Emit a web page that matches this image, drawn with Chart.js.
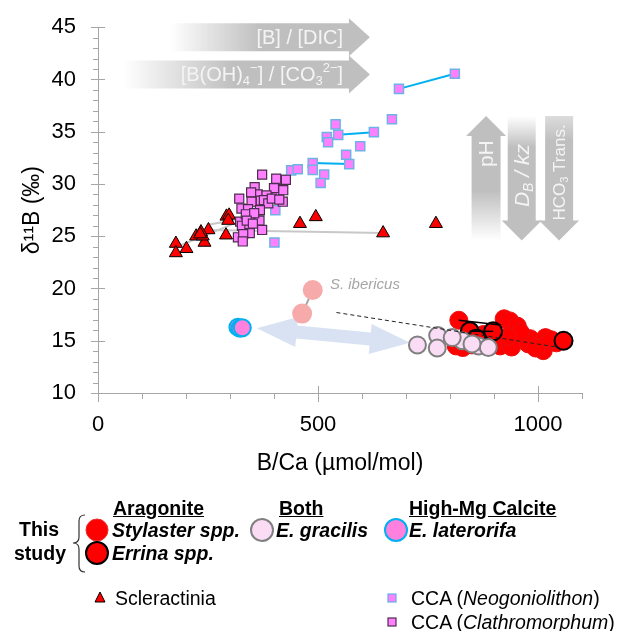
<!DOCTYPE html>
<html>
<head>
<meta charset="utf-8">
<title>d11B vs B/Ca</title>
<script src="https://cdn.jsdelivr.net/npm/chart.js"></script>
<style>
  body { margin: 0; background: #fff; font-family: "Liberation Sans", Arial, sans-serif; }
  #wrap { position: relative; width: 621px; height: 631px; }
  #chartBox { position: absolute; left: 0; top: 0; width: 621px; height: 480px; }
  #overlay { position: absolute; left: 0; top: 0; }
  .lg { position: absolute; font-size: 19.5px; line-height: 22px; white-space: nowrap; color: #000; }
  .b { font-weight: bold; }
  .bi { font-weight: bold; font-style: italic; }
  .u { text-decoration: underline; }
</style>
</head>
<body>
<div id="wrap">
  <div id="chartBox"><canvas id="chart"></canvas></div>

  <svg id="overlay" width="621" height="631">
    <path d="M85 515 Q79 515 79 521 L79 537 Q79 543 73 543 Q79 543 79 549 L79 566 Q79 572 85 572" fill="none" stroke="#333" stroke-width="1.2"/>
    <circle cx="97" cy="530" r="11" fill="#ff0000" stroke="#e83030" stroke-width="1"/>
    <circle cx="97" cy="553" r="11" fill="#ff0000" stroke="#000" stroke-width="2"/>
    <circle cx="262" cy="530" r="11" fill="#fadcf5" stroke="#808080" stroke-width="2"/>
    <circle cx="396" cy="530" r="11" fill="#ff80df" stroke="#00b0f0" stroke-width="2"/>
    <path d="M100 592 L105 602 L95 602 Z" fill="#ff0000" stroke="#000" stroke-width="1"/>
    <rect x="388" y="594" width="8" height="8" fill="#ff80ff" stroke="#5fb0e8" stroke-width="1.2"/>
    <rect x="388" y="618" width="8" height="8" fill="#ff80ff" stroke="#4d2d4d" stroke-width="1.2"/>
  </svg>

  <div class="lg b u" style="left:113px;top:497px;">Aragonite</div>
  <div class="lg b u" style="left:279px;top:497px;">Both</div>
  <div class="lg b u" style="left:409px;top:497px;">High-Mg Calcite</div>
  <div class="lg b" style="left:19px;top:518px;">This</div>
  <div class="lg b" style="left:14px;top:542px;">study</div>
  <div class="lg bi" style="left:112px;top:519px;">Stylaster spp.</div>
  <div class="lg bi" style="left:112px;top:542px;">Errina spp.</div>
  <div class="lg bi" style="left:276px;top:519px;">E. gracilis</div>
  <div class="lg bi" style="left:409px;top:519px;">E. laterorifa</div>
  <div class="lg" style="left:115px;top:587px;">Scleractinia</div>
  <div class="lg" style="left:411px;top:587px;">CCA (<i>Neogoniolithon</i>)</div>
  <div class="lg" style="left:411px;top:611px;">CCA (<i>Clathromorphum</i>)</div>
</div>

<script>
  // axis ticks
  const xTicks = [0, 500, 1000];
  const yTicks = [10, 15, 20, 25, 30, 35, 40, 45];

  // CCA (Neogoniolithon)
  const neoX = [811, 684, 668, 540, 627, 546, 520, 523, 596, 564, 571, 488, 488, 514, 506, 439, 454, 401, 403];
  const neoY = [40.55, 39.1, 36.2, 35.7, 34.96, 34.7, 34.5, 34.0, 33.6, 32.8, 31.9, 32.0, 31.35, 30.9, 30.1, 31.3, 31.4, 24.4, 27.5];
  const neoLinkX = [[684, 811], [546, 627], [488, 571]];
  const neoLinkY = [[39.1, 40.55], [34.7, 34.96], [32.0, 31.9]];

  // CCA (Clathromorphum)
  const clathX = [373, 408, 417, 427, 405, 356, 400, 363, 383, 406, 421, 420, 321, 348, 349, 326, 341, 370, 377, 387,
                  368, 344, 367, 373, 323, 327, 344, 345, 318, 330, 329, 336, 355, 338, 352, 395, 412];
  const clathY = [30.9, 30.3, 30.4, 30.4, 30.5, 29.7, 29.6, 29.0, 28.9, 28.75, 29.4, 28.3, 28.6, 29.2, 28.3, 27.65, 27.6, 28.4, 28.45, 28.15,
                  27.5, 26.96, 26.5, 25.6, 26.4, 26.0, 25.9, 25.3, 24.9, 25.2, 24.5, 27.1, 27.2, 26.5, 26.2, 28.6, 28.5];

  // Scleractinia
  const sclerX = [177, 177, 201, 223, 242, 238, 251, 234, 232, 291, 292, 298, 296, 364, 459, 495, 648, 768];
  const sclerY = [24.3, 23.4, 23.8, 25.0, 24.4, 25.0, 25.6, 25.4, 25.2, 25.1, 26.9, 27.0, 26.5, 27.4, 26.2, 26.85, 25.3, 26.2];
  const sclerLinkX = [[180, 320], [250, 330], [247, 648]];
  const sclerLinkY = [[24.0, 26.4], [26.1, 26.7], [25.6, 25.3]];

  // this study
  const stylX = [820, 923, 936, 953, 814, 829, 914, 940, 982, 978, 1017, 1020, 1012, 1042, 867, 876, 840, 900, 960, 995, 1030, 850, 930];
  const stylY = [16.96, 17.1, 16.9, 16.4, 14.5, 14.35, 14.5, 14.4, 15.2, 14.7, 15.3, 14.7, 14.05, 14.8, 15.0, 15.6, 15.3, 14.9, 15.8, 14.3, 15.1, 14.6, 15.4];
  const errinaX = [845, 898, 1058, 860];
  const errinaY = [15.9, 15.9, 15.0, 15.2];
  const gracX = [726, 772, 771, 828, 865, 887, 850, 805];
  const gracY = [14.6, 15.5, 14.3, 15.0, 14.5, 14.35, 14.7, 15.3];
  const latX = [318, 323, 328];
  const latY = [16.3, 16.2, 16.25];
  const blackLinkX = [[820, 915], [845, 898]];
  const blackLinkY = [[16.96, 16.5], [15.9, 15.9]];
  const dashX = [542, 1050];
  const dashY = [17.7, 14.35];

  // S. ibericus
  const ibeX = [464, 488];
  const ibeY = [17.6, 19.85];

  const FONT = '"Liberation Sans", Arial, sans-serif';
  const AXIS = '#a6a6a6';
  const ARROW = '#bfbfbf';

  const pts = (xs, ys) => xs.map((v, i) => ({ x: v, y: ys[i] }));

  function links(xs, ys, color, width, dash) {
    return xs.map((xx, i) => ({
      data: pts(xx, ys[i]), showLine: true, pointRadius: 0,
      borderColor: color, borderWidth: width, borderDash: dash || []
    }));
  }

  const layers = [
    ...links(sclerLinkX, sclerLinkY, '#c8c8c8', 2),
    { data: pts(sclerX, sclerY), pointStyle: 'triangle', pointRadius: 7.5,
      backgroundColor: '#ff0000', borderColor: '#000', borderWidth: 1 },
    ...links(neoLinkX, neoLinkY, '#00b0f0', 2),
    { data: pts(neoX, neoY), pointStyle: 'rect', pointRadius: 6.4,
      backgroundColor: '#ff80ff', borderColor: '#6fb2e6', borderWidth: 1.5 },
    { data: pts(clathX, clathY), pointStyle: 'rect', pointRadius: 6.4,
      backgroundColor: '#ff80ff', borderColor: '#4d2d4d', borderWidth: 1.2 },
    { data: pts(ibeX, ibeY), showLine: true, borderColor: '#a6a6a6', borderWidth: 2,
      pointRadius: 9, pointBackgroundColor: '#f7aaaa', pointBorderColor: '#f7aaaa' },
    { data: pts(stylX, stylY), pointRadius: 9,
      backgroundColor: '#ff0000', borderColor: '#e81010', borderWidth: 1 },
    { data: pts(errinaX, errinaY), pointRadius: 9,
      backgroundColor: '#ff0000', borderColor: '#000', borderWidth: 2 },
    { data: pts(gracX, gracY), pointRadius: 8.5,
      backgroundColor: '#fadcf5', borderColor: '#808080', borderWidth: 2 },
    ...links(blackLinkX, blackLinkY, '#000', 1.5),
    ...links([dashX], [dashY], '#222', 1, [4, 3]),
    { data: pts(latX, latY), pointRadius: 8.5,
      backgroundColor: '#ff80df', borderColor: '#00b0f0', borderWidth: 2 }
  ];
  // first layer at the bottom
  layers.forEach((d, i) => { d.order = layers.length - i; d.clip = false; });

  // text made of runs: n normal, i italic, b subscript, p superscript, ib italic subscript
  function richText(ctx, runs, x, y, size, align) {
    const fontOf = k => {
      const small = (k === 'b' || k === 'p' || k === 'ib');
      const it = (k === 'i' || k === 'ib') ? 'italic ' : '';
      return it + (small ? Math.round(size * 0.65) : size) + 'px ' + FONT;
    };
    let total = 0;
    runs.forEach(([t, k]) => { ctx.font = fontOf(k); total += ctx.measureText(t).width; });
    let cx = align === 'right' ? x - total : align === 'center' ? x - total / 2 : x;
    ctx.textAlign = 'left';
    ctx.textBaseline = 'middle';
    runs.forEach(([t, k]) => {
      ctx.font = fontOf(k);
      const dy = (k === 'b' || k === 'ib') ? size * 0.3 : k === 'p' ? -size * 0.35 : 0;
      ctx.fillText(t, cx, y + dy);
      cx += ctx.measureText(t).width;
    });
  }

  function hArrow(ctx, x0, x1, yc, sh, hh, hl, fill) {
    ctx.beginPath();
    ctx.moveTo(x0, yc - sh);
    ctx.lineTo(x1 - hl, yc - sh);
    ctx.lineTo(x1 - hl, yc - hh);
    ctx.lineTo(x1, yc);
    ctx.lineTo(x1 - hl, yc + hh);
    ctx.lineTo(x1 - hl, yc + sh);
    ctx.lineTo(x0, yc + sh);
    ctx.closePath();
    ctx.fillStyle = fill;
    ctx.fill();
  }

  // tip at yTip, tail at yTail
  function vArrow(ctx, xc, yTip, yTail, sw, hw, hl, fill) {
    const s = yTail > yTip ? 1 : -1;
    ctx.beginPath();
    ctx.moveTo(xc, yTip);
    ctx.lineTo(xc + hw, yTip + s * hl);
    ctx.lineTo(xc + sw, yTip + s * hl);
    ctx.lineTo(xc + sw, yTail);
    ctx.lineTo(xc - sw, yTail);
    ctx.lineTo(xc - sw, yTip + s * hl);
    ctx.lineTo(xc - hw, yTip + s * hl);
    ctx.closePath();
    ctx.fillStyle = fill;
    ctx.fill();
  }

  const annotations = {
    id: 'annotations',
    beforeDatasetsDraw(chart) {
      const { ctx, scales: { x, y } } = chart;
      ctx.save();

      // axis tick marks
      const ax = x.left, ay = y.bottom;
      ctx.strokeStyle = AXIS;
      ctx.lineWidth = 1;
      ctx.beginPath();
      for (let v = 10; v <= 45; v++) {
        const py = Math.round(y.getPixelForValue(v)) + 0.5;
        const major = v % 5 === 0;
        ctx.moveTo(ax - (major ? 7 : 5), py);
        ctx.lineTo(ax + (major ? 7 : 0), py);
      }
      for (let v = 0; v <= 1100; v += 100) {
        const px = Math.round(x.getPixelForValue(v)) + 0.5;
        const major = v % 500 === 0;
        ctx.moveTo(px, ay - (major ? 7 : 0));
        ctx.lineTo(px, ay + (major ? 9 : 6));
      }
      ctx.stroke();

      // top gradient arrows
      const tops = [
        { x0: 164, yv: 44.05, runs: [['[B] / [DIC]', 'n']] },
        { x0: 57, yv: 40.48, runs: [['[B(OH)', 'n'], ['4', 'b'], ['−', 'p'], ['] / [CO', 'n'], ['3', 'b'], ['2−', 'p'], [']', 'n']] }
      ];
      const tipX = x.getPixelForValue(618);
      tops.forEach(a => {
        const x0 = x.getPixelForValue(a.x0), yc = y.getPixelForValue(a.yv);
        const g = ctx.createLinearGradient(x0, 0, tipX, 0);
        g.addColorStop(0, 'rgba(191,191,191,0)');
        g.addColorStop(0.45, ARROW);
        g.addColorStop(1, ARROW);
        hArrow(ctx, x0, tipX, yc, 14, 19, 21, g);
        ctx.fillStyle = '#f4f4f4';
        richText(ctx, a.runs, x.getPixelForValue(557), yc + 1, 20, 'right');
      });

      // vertical arrows
      const yTop = y.getPixelForValue(36.5), yBot = y.getPixelForValue(24.6);
      const ph = x.getPixelForValue(882), db = x.getPixelForValue(963), hc = x.getPixelForValue(1048);
      let g = ctx.createLinearGradient(0, yTop, 0, yBot);
      g.addColorStop(0, ARROW); g.addColorStop(0.6, ARROW); g.addColorStop(1, 'rgba(191,191,191,0)');
      vArrow(ctx, ph, yTop, yBot, 14.5, 20, 20, g);
      g = ctx.createLinearGradient(0, yTop, 0, yBot);
      g.addColorStop(0, 'rgba(191,191,191,0)'); g.addColorStop(0.25, ARROW); g.addColorStop(1, ARROW);
      vArrow(ctx, db, yBot, yTop, 14, 20, 20, g);
      g = ctx.createLinearGradient(0, yTop, 0, yBot);
      g.addColorStop(0, '#dcdcdc'); g.addColorStop(0.2, ARROW); g.addColorStop(1, ARROW);
      vArrow(ctx, hc, yBot, yTop, 14, 20, 20, g);

      const vText = (cx, cyv, runs, size) => {
        ctx.save();
        ctx.translate(cx + 1, y.getPixelForValue(cyv));
        ctx.rotate(-Math.PI / 2);
        ctx.fillStyle = '#f4f4f4';
        richText(ctx, runs, 0, 0, size, 'center');
        ctx.restore();
      };
      vText(ph, 32.9, [['pH', 'n']], 21);
      vText(db, 30.8, [['D', 'i'], ['B', 'ib'], [' / ', 'i'], ['kz', 'i']], 21);
      vText(hc, 31.1, [['HCO', 'n'], ['3', 'b'], [' Trans.', 'n']], 17);

      // light blue double arrow
      const bx0 = x.getPixelForValue(361), by0 = y.getPixelForValue(16.2);
      const bx1 = x.getPixelForValue(709), by1 = y.getPixelForValue(14.8);
      const len = Math.hypot(bx1 - bx0, by1 - by0);
      ctx.save();
      ctx.translate(bx0, by0);
      ctx.rotate(Math.atan2(by1 - by0, bx1 - bx0));
      const hl = 40, hh = 15, sh = 6.5;
      ctx.beginPath();
      ctx.moveTo(0, 0);
      ctx.lineTo(hl, -hh); ctx.lineTo(hl, -sh); ctx.lineTo(len - hl, -sh); ctx.lineTo(len - hl, -hh);
      ctx.lineTo(len, 0);
      ctx.lineTo(len - hl, hh); ctx.lineTo(len - hl, sh); ctx.lineTo(hl, sh); ctx.lineTo(hl, hh);
      ctx.closePath();
      ctx.fillStyle = '#d9e2f3';
      ctx.fill();
      ctx.restore();

      // S. ibericus label
      ctx.fillStyle = '#a6a6a6';
      ctx.font = 'italic 15px ' + FONT;
      ctx.textAlign = 'left';
      ctx.textBaseline = 'middle';
      ctx.fillText('S. ibericus', x.getPixelForValue(527), y.getPixelForValue(20.35));

      ctx.restore();
    }
  };

  new Chart(document.getElementById('chart'), {
    type: 'scatter',
    data: { datasets: layers },
    options: {
      responsive: true,
      maintainAspectRatio: false,
      animation: false,
      layout: { padding: { top: 21, right: 39, left: 0, bottom: 0 } },
      plugins: { legend: { display: false }, tooltip: { enabled: false } },
      scales: {
        x: {
          min: 0, max: 1100,
          grid: { display: false },
          border: { color: AXIS, width: 1 },
          afterBuildTicks: s => { s.ticks = xTicks.map(v => ({ value: v })); },
          afterFit: s => { s.height = 87; },
          ticks: { color: '#000', padding: 11, font: { family: FONT, size: 22 }, callback: v => String(v) },
          title: { display: true, text: 'B/Ca (µmol/mol)', color: '#000',
                   padding: { top: 0, bottom: 3 }, font: { family: FONT, size: 23 } }
        },
        y: {
          min: 10, max: 45,
          grid: { display: false },
          border: { color: AXIS, width: 1 },
          afterBuildTicks: s => { s.ticks = yTicks.map(v => ({ value: v })); },
          afterFit: s => { s.width = 98; },
          ticks: { color: '#000', padding: 14, font: { family: FONT, size: 22 }, callback: v => String(v) },
          title: { display: true, text: 'δ¹¹B (‰)', color: '#000',
                   padding: { top: 19, bottom: 0 }, font: { family: FONT, size: 23 } }
        }
      }
    },
    plugins: [annotations]
  });
</script>
</body>
</html>
